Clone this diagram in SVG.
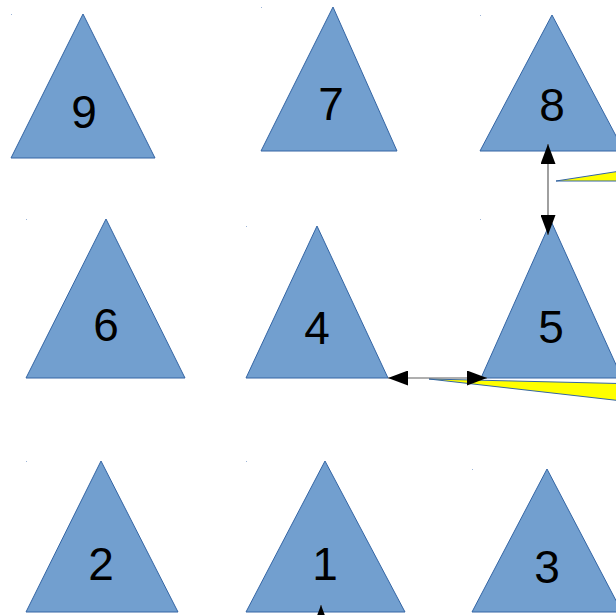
<svg xmlns="http://www.w3.org/2000/svg" width="616" height="615" viewBox="0 0 616 615">
<style>
.tri{fill:#729fcf;stroke:#3465a4;stroke-width:1}
.lbl{font-family:"Liberation Sans",Arial,sans-serif;font-size:46px;fill:#000;text-anchor:middle}
.dot{fill:#9db5d8}
.con{stroke:#606060;stroke-width:1.2;fill:none}
.ylw{fill:#ffff00;stroke:#3465a4;stroke-width:1}
</style>
<defs>
<marker id="ah" viewBox="0 0 20 15" refX="20" refY="7.5" markerWidth="20" markerHeight="15" markerUnits="userSpaceOnUse" orient="auto-start-reverse">
<path d="M0,0 L20,7.5 L0,15 Z" fill="#000"/>
</marker>
</defs>
<rect width="616" height="615" fill="#fff"/>
<g id="node9"><rect class="dot" x="11" y="14" width="1" height="1"/><polygon class="tri" points="83,14 155,158 11,158"/><text class="lbl" x="84" y="128">9</text></g>
<g id="node7"><rect class="dot" x="261" y="7" width="1" height="1"/><polygon class="tri" points="333,7 397,151 261,151"/><text class="lbl" x="331" y="120">7</text></g>
<g id="node8"><rect class="dot" x="480" y="15" width="1" height="1"/><polygon class="tri" points="552,15 624,151 480,151"/><text class="lbl" x="552" y="121">8</text></g>
<g id="node6"><rect class="dot" x="26" y="219" width="1" height="1"/><polygon class="tri" points="106,219 185,378 26,378"/><text class="lbl" x="106" y="341">6</text></g>
<g id="node4"><rect class="dot" x="246" y="226" width="1" height="1"/><polygon class="tri" points="317,226 388,378 246,378"/><text class="lbl" x="317" y="344">4</text></g>
<g id="node5"><rect class="dot" x="480" y="219" width="1" height="1"/><polygon class="tri" points="551,221 622,378 481,378"/><text class="lbl" x="551" y="343">5</text></g>
<g id="node2"><rect class="dot" x="26" y="461" width="1" height="1"/><polygon class="tri" points="101,461 178,612 26,612"/><text class="lbl" x="101" y="580">2</text></g>
<g id="node1"><rect class="dot" x="246" y="461" width="1" height="1"/><polygon class="tri" points="325,461 405,612 246,612"/><text class="lbl" x="325" y="580">1</text></g>
<g id="node3"><rect class="dot" x="472" y="469" width="1" height="1"/><polygon class="tri" points="547,469 622,612 472,612"/><text class="lbl" x="547" y="583">3</text></g>
<g id="shapes">
<polygon class="ylw" points="556,181 640,168 640,181"/>
<polygon class="ylw" points="429,379 640,384 640,403"/>
</g>
<g id="connectors">
<line class="con" x1="548" y1="144" x2="548" y2="235" marker-start="url(#ah)" marker-end="url(#ah)"/>
<line class="con" x1="388" y1="378" x2="487" y2="378" marker-start="url(#ah)" marker-end="url(#ah)"/>
<line class="con" x1="321" y1="650" x2="321" y2="605" marker-end="url(#ah)"/>
</g>
</svg>
